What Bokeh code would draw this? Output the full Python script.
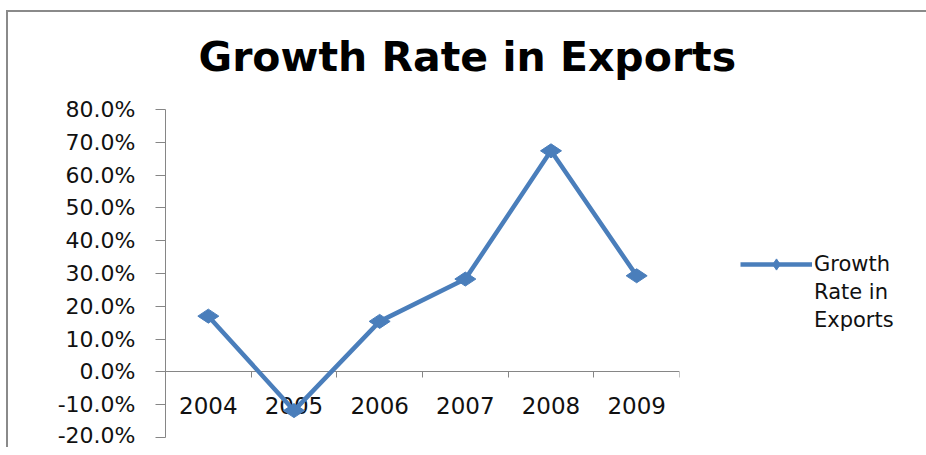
from bokeh.plotting import figure
from bokeh.models import (Range1d, LinearAxis, FixedTicker, PrintfTickFormatter,
                          Title, Legend, LegendItem, ColumnDataSource)
from bokeh.embed import file_html
from bokeh.resources import INLINE
import numpy as np

# ---- data ----
years = ["2004", "2005", "2006", "2007", "2008", "2009"]
growth = [17.0, -11.8, 15.4, 28.3, 67.4, 29.3]   # percent
y_ticks = [-20, -10, 0, 10, 20, 30, 40, 50, 60, 70, 80]
title_text = "Growth Rate in Exports"
legend_lines = ["Growth", "Rate in", "Exports"]

BLUE = "#4A7EBB"
GRAY = "#868686"

# layout: frame has some empty room above the 80% tick for the title
FRAME_H = 352
PX_PER_UNIT = 3.28
y_top = y_ticks[0] + FRAME_H / PX_PER_UNIT

xpos = np.arange(len(years)) + 0.5
src = ColumnDataSource(dict(x=xpos, y=growth))

p = figure(frame_width=514, frame_height=FRAME_H,
           min_border_left=157, min_border_right=245,
           min_border_top=73, min_border_bottom=10,
           x_range=Range1d(0, len(years)), y_range=Range1d(y_ticks[0], y_top),
           output_backend="svg", toolbar_location=None,
           x_axis_location=None, y_axis_location=None)
p.margin = (10, 0, 0, 6)
p.styles = {"border-top": "2px solid #8a8a8a", "border-left": "2px solid #8a8a8a"}
p.grid.visible = False
p.outline_line_color = None
p.background_fill_color = "white"
p.border_fill_color = "white"

# y axis
ya = LinearAxis(ticker=FixedTicker(ticks=y_ticks),
                formatter=PrintfTickFormatter(format="%.1f%%"),
                bounds=(y_ticks[0], y_ticks[-1]))
ya.axis_line_color = GRAY
ya.major_tick_line_color = GRAY
ya.major_tick_out = 10
ya.major_tick_in = 0
ya.minor_tick_line_color = None
ya.major_label_standoff = 20
ya.major_label_text_font = "DejaVu Sans"
ya.major_label_text_font_size = "22px"
ya.major_label_text_color = "#111111"
p.add_layout(ya, "left")

# x axis: tick marks between categories
xt = LinearAxis(ticker=FixedTicker(ticks=list(range(len(years) + 1))), fixed_location=0)
xt.axis_line_color = GRAY
xt.major_tick_line_color = GRAY
xt.major_tick_out = 6
xt.major_tick_in = 0
xt.minor_tick_line_color = None
xt.major_label_text_alpha = 0
xt.major_label_text_font_size = "1px"
p.add_layout(xt, "below")

# x axis: labels at category centers
xl = LinearAxis(ticker=FixedTicker(ticks=list(xpos)), fixed_location=0,
                major_label_overrides={float(v): yr for v, yr in zip(xpos, years)})
xl.axis_line_color = None
xl.major_tick_line_color = None
xl.minor_tick_line_color = None
xl.major_label_standoff = 19
xl.major_label_text_font = "DejaVu Sans"
xl.major_label_text_font_size = "23px"
xl.major_label_text_color = "#111111"
p.add_layout(xl, "below")

ln = p.line("x", "y", source=src, line_color=BLUE, line_width=4.5)
mk = p.scatter("x", "y", source=src, marker="diamond", angle=np.pi / 2,
               size=21, fill_color=BLUE, line_color=BLUE)
ln.level = "overlay"
mk.level = "overlay"
# invisible renderer used only for the wrapped legend lines
blank = p.line(x=[], y=[], line_alpha=0)

title = Title(text=title_text, align="left", offset=33, vertical_align="bottom",
              standoff=9, text_font="DejaVu Sans", text_font_style="bold",
              text_font_size="41px", text_color="black")
p.add_layout(title, "above")

items = [LegendItem(label=legend_lines[0], renderers=[ln, mk])] + \
        [LegendItem(label=t, renderers=[blank]) for t in legend_lines[1:]]
legend = Legend(items=items,
                location=(61, 103), glyph_width=72, glyph_height=28, spacing=0,
                label_standoff=2, padding=0, margin=0, border_line_color=None,
                background_fill_alpha=0,
                label_text_font="DejaVu Sans", label_text_font_size="21px",
                label_text_color="#111111")
p.add_layout(legend, "right")

open("out.html", "w").write(file_html(p, INLINE))
